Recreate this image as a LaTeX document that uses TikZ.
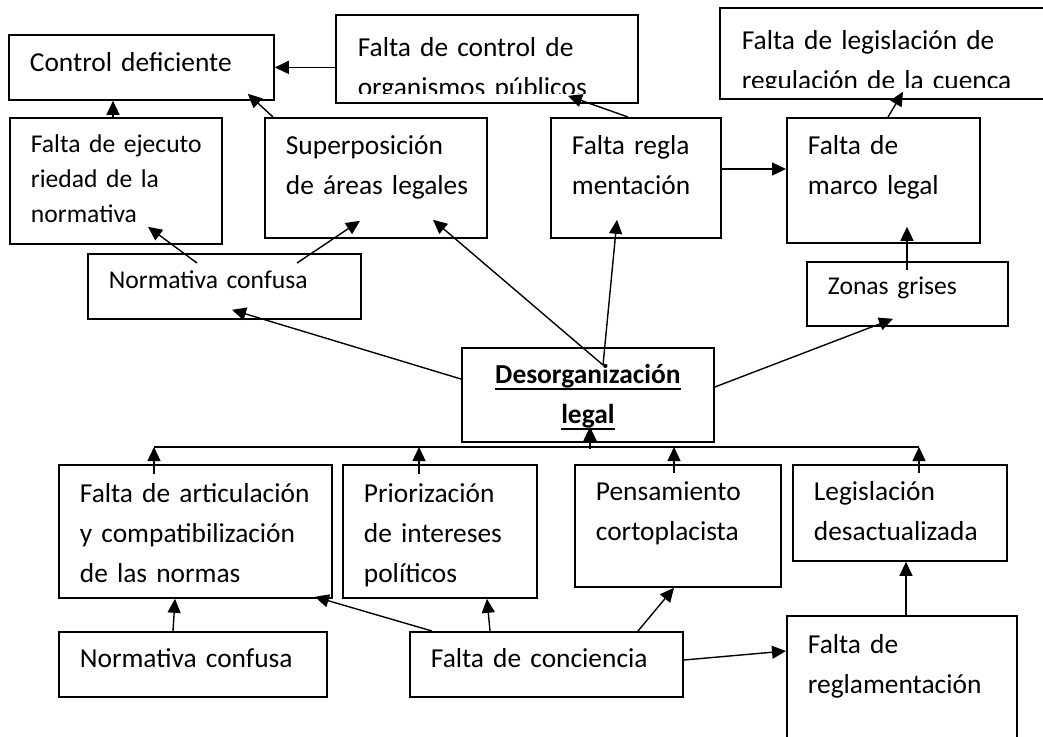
\documentclass[tikz,border=0pt]{standalone}
\usepackage{fontspec}
\setmainfont{Carlito}
\usetikzlibrary{arrows.meta,calc}
\newcommand\textonormal{\fontsize{13.7}{20}\selectfont}
\newcommand\textochico{\fontsize{12.8}{17.5}\selectfont}
\newsavebox\cajasub
\newcommand\subrayado[1]{\leavevmode\sbox\cajasub{#1}\rlap{\rule[-3pt]{\wd\cajasub}{1pt}}\usebox\cajasub}
\tikzset{
  texto/.style={anchor=north west, inner sep=0pt, font=\textonormal, text height=18.5pt},
  izq/.style={align=left, execute at begin node={\leftskip=10.5pt}},
  recuadro/.style 2 args={texto, draw, line width=0.9pt, text width=#1, text depth=#2},
  caja/.style 2 args={recuadro={#1}{#2}, izq},
  flecha/.style={-{Triangle[length=7pt,width=6.5pt]}, line width=0.7pt}
}

\begin{document}
\begin{tikzpicture}[x=0.5pt, y=-0.5pt]
      \fill[white] (0,0) rectangle (1043,736);
      \useasboundingbox (0,0) rectangle (1043,736);
      \node[caja={132.5pt}{14pt}] (ctrl) at (8,34) {Control deficiente};
      \node[draw, line width=0.9pt, anchor=north west, inner sep=0pt,
        minimum width=151pt, minimum height=44pt,
        path picture={
          \clip (path picture bounding box.north west) rectangle ([yshift=4.5pt]path picture bounding box.south east);
          \node[texto, izq, text width=200pt, text height=19pt] (orgpubtxt) at (path picture bounding box.north west) {Falta de control de\\organismos públicos};
        }] (orgpub) at (335,14) {};
      \node[draw, line width=0.9pt, anchor=north west, inner sep=0pt,
        minimum width=170.5pt, minimum height=45.5pt,
        path picture={
          \clip (path picture bounding box.north west) rectangle ([yshift=5.5pt]path picture bounding box.south east);
          \node[texto, izq, text width=200pt, text height=18pt] (legistxt) at (path picture bounding box.north west) {Falta de legislación de\\regulación de la cuenca};
        }] (legis) at (719,7) {};
      \node[caja={106pt}{45.5pt}, font=\textochico, text height=17.5pt] (ejec) at (9,117) {Falta de ejecuto\\riedad de la\\normativa};
      \node[caja={111pt}{41.5pt}] (superp) at (264,117) {Superposición\\de áreas legales};
      \node[caja={85pt}{41.5pt}] (regla) at (550,117) {Falta regla\\mentación};
      \node[caja={96.5pt}{44pt}] (marco) at (786,117) {Falta de\\marco legal};
      \node[caja={136.5pt}{15pt}, font=\textochico, text height=17.5pt] (normA) at (87,253) {Normativa confusa};
      \node[caja={100.5pt}{15.5pt}, font=\textochico, text height=16.5pt] (zonas) at (806,261) {Zonas grises};
      \node[recuadro={126pt}{29pt}, align=center, text height=18pt, font=\textonormal\bfseries,
        ] (desorg) at (461,347) {\subrayado{Desorganización}\\\subrayado{legal}};
      \node[caja={136.5pt}{47.5pt}, text height=19pt] (artic) at (58,464) {Falta de articulación\\y compatibilización\\de las normas};
      \node[caja={97pt}{47.5pt}, text height=19pt] (prior) at (342,464) {Priorización\\de intereses\\políticos};
      \node[caja={103pt}{43pt}, text height=18pt] (pensa) at (574,464) {Pensamiento\\cortoplacista};
      \node[caja={107pt}{30pt}, text height=18pt] (legdes) at (792,464) {Legislación\\desactualizada};
      \node[caja={134pt}{14.5pt}, text height=18pt] (normB) at (58,631) {Normativa confusa};
      \node[caja={136.5pt}{14.5pt}, text height=18pt] (concien) at (409,631) {Falta de conciencia};
      \node[caja={115pt}{53.5pt}, text height=19pt] (reglam) at (786,615) {Falta de\\reglamentación};

      \draw[flecha] (orgpub.west |- ctrl.east) -- (ctrl.east);
      \draw[flecha] ($(ejec.north west)+(104,0)$) -- ($(ctrl.south west)+(105,0)$);
      \draw[flecha] ($(superp.north west)+(9,0)$) -- ($(ctrl.south east)+(-27,-7)$);
      \draw[flecha] ($(normA.north west)+(110,10)$) -- ($(ejec.south west)+(139,-18)$);
      \draw[flecha] ($(normA.north west)+(210,10)$) -- ($(superp.south west)+(96,-18)$);
      \coordinate (d0) at ($(desorg.north west)+(142,18)$);
      \draw[flecha] (d0) -- ($(superp.south west)+(169,-19)$);
      \draw[flecha] (d0) -- ($(regla.south west)+(67,-19)$);
      \draw[flecha] ($(desorg.north west)+(0,32)$) -- ($(normA.south west)+(145,-10)$);
      \draw[flecha] ($(desorg.north east)+(0,40)$) -- ($(zonas.south west)+(87,-8)$);
      \draw[flecha] ($(regla.north west)+(78,0)$) -- ($(orgpub.south west)+(233,-8)$);
      \draw[flecha] ($(regla.north east)+(0,52)$) -- ($(marco.north west)+(0,52)$);
      \draw[flecha] ($(marco.north west)+(102,0)$) -- ($(legis.south west)+(184,-8)$);
      \draw[flecha] ($(zonas.north west)+(101,9)$) -- ($(marco.south west)+(121,-17)$);

      \draw[line width=0.7pt] ($(artic.north west)+(96,-17)$) -- ($(legdes.north west)+(127,-17)$);
      \draw[flecha] ($(artic.north west)+(96,10)$) -- ++(0,-27);
      \draw[flecha] ($(prior.north west)+(77,10)$) -- ++(0,-27);
      \draw[flecha] ($(pensa.north west)+(100,9)$) -- ++(0,-26);
      \draw[flecha] ($(legdes.north west)+(127,9)$) -- ++(0,-26);
      \draw[flecha] ($(desorg.south west)+(129,6)$) -- ($(desorg.south west)+(129,-16)$);

      \draw[flecha] ($(normB.north west)+(115,0)$) -- ($(artic.south west)+(117,0)$);
      \draw[flecha] ($(concien.north west)+(23,0)$) -- ($(artic.south east)+(-18,-2)$);
      \draw[flecha] ($(concien.north west)+(81,0)$) -- ($(prior.south west)+(145,0)$);
      \draw[flecha] ($(concien.north west)+(229,0)$) -- ($(pensa.south west)+(100,0)$);
      \draw[flecha] ($(concien.north east)+(0,29)$) -- ($(reglam.north west)+(0,36)$);
      \draw[flecha] ($(reglam.north west)+(120,0)$) -- ($(legdes.south west)+(114,0)$);
\end{tikzpicture}
\end{document}
